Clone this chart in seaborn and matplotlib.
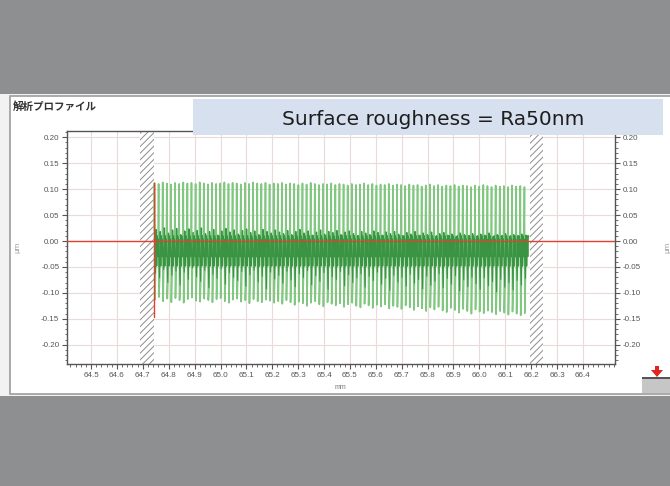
import numpy as np
import pandas as pd
import matplotlib
matplotlib.use("Agg")
import matplotlib.pyplot as plt
import seaborn as sns
from matplotlib.patches import Rectangle, Polygon
from matplotlib.ticker import MultipleLocator

# ---------------- data ----------------
X_START = 64.745          # first measured cycle, mm
X_END = 66.190            # last measured point, mm
PEAK = [0.112, 0.110, 0.113, 0.111, 0.109, 0.112, 0.110, 0.113, 0.111, 0.112,
        0.110, 0.113, 0.111, 0.109, 0.112, 0.110, 0.111, 0.113, 0.110, 0.112,
        0.111, 0.109, 0.112, 0.110, 0.113, 0.111, 0.110, 0.112, 0.109, 0.111,
        0.110, 0.112, 0.109, 0.111, 0.110, 0.108, 0.111, 0.109, 0.112, 0.110,
        0.108, 0.110, 0.109, 0.111, 0.108, 0.110, 0.109, 0.107, 0.110, 0.108,
        0.109, 0.111, 0.108, 0.110, 0.107, 0.109, 0.108, 0.110, 0.107, 0.109,
        0.108, 0.106, 0.109, 0.107, 0.108, 0.105, 0.107, 0.109, 0.106, 0.108,
        0.105, 0.107, 0.106, 0.108, 0.105, 0.107, 0.106, 0.104, 0.107, 0.105,
        0.108, 0.106, 0.104, 0.107, 0.105, 0.106, 0.104, 0.107, 0.105, 0.106, 0.104]
TROUGH = [-0.113, -0.108, -0.116, -0.111, -0.118, -0.110, -0.114, -0.119, -0.112, -0.109,
          -0.115, -0.117, -0.111, -0.114, -0.118, -0.112, -0.110, -0.116, -0.119, -0.113,
          -0.111, -0.117, -0.114, -0.120, -0.112, -0.116, -0.118, -0.113, -0.115, -0.119,
          -0.116, -0.121, -0.114, -0.118, -0.123, -0.117, -0.120, -0.125, -0.119, -0.116,
          -0.122, -0.126, -0.118, -0.121, -0.124, -0.120, -0.127, -0.122, -0.119, -0.125,
          -0.128, -0.121, -0.124, -0.129, -0.123, -0.126, -0.122, -0.130, -0.125, -0.127,
          -0.131, -0.124, -0.128, -0.133, -0.126, -0.130, -0.135, -0.128, -0.132, -0.127,
          -0.134, -0.137, -0.129, -0.133, -0.138, -0.131, -0.135, -0.140, -0.132, -0.136,
          -0.139, -0.134, -0.137, -0.141, -0.135, -0.138, -0.142, -0.136, -0.140, -0.143, -0.139]
BAND_LOW = [-0.062, -0.071, -0.055, -0.080, -0.066, -0.058, -0.085, -0.060, -0.074, -0.052,
            -0.069, -0.078, -0.057, -0.090, -0.064, -0.072, -0.054, -0.083, -0.061, -0.070,
            -0.076, -0.059, -0.087, -0.065, -0.056, -0.079, -0.068, -0.092, -0.060, -0.073,
            -0.066, -0.081, -0.058, -0.075, -0.088, -0.063, -0.070, -0.057, -0.084, -0.067,
            -0.078, -0.061, -0.093, -0.069, -0.074, -0.059, -0.086, -0.065, -0.080, -0.071,
            -0.063, -0.089, -0.068, -0.076, -0.060, -0.083, -0.072, -0.095, -0.066, -0.079,
            -0.070, -0.087, -0.064, -0.081, -0.074, -0.092, -0.068, -0.085, -0.077, -0.063,
            -0.090, -0.072, -0.083, -0.067, -0.096, -0.075, -0.088, -0.070, -0.082, -0.093,
            -0.071, -0.086, -0.078, -0.098, -0.074, -0.089, -0.080, -0.094, -0.076, -0.085, -0.072]
BAND_TOP = [0.022, 0.018, 0.025, 0.015, 0.021, 0.024, 0.012, 0.019, 0.023, 0.016,
            0.020, 0.025, 0.014, 0.018, 0.022, 0.011, 0.019, 0.024, 0.017, 0.021,
            0.013, 0.020, 0.023, 0.016, 0.019, 0.012, 0.022, 0.018, 0.015, 0.021,
            0.017, 0.014, 0.020, 0.012, 0.018, 0.022, 0.015, 0.019, 0.011, 0.017,
            0.021, 0.013, 0.018, 0.016, 0.020, 0.012, 0.017, 0.019, 0.014, 0.010,
            0.018, 0.015, 0.012, 0.019, 0.016, 0.011, 0.017, 0.014, 0.018, 0.013,
            0.010, 0.016, 0.013, 0.018, 0.011, 0.015, 0.012, 0.017, 0.009, 0.014,
            0.016, 0.011, 0.013, 0.008, 0.015, 0.012, 0.010, 0.014, 0.009, 0.013,
            0.011, 0.015, 0.008, 0.012, 0.010, 0.014, 0.009, 0.012, 0.010, 0.013, 0.011]
MID_SHAPE = [-0.048, 0.010, -0.030, 0.004]          # remaining in-cycle levels
CYCLE_FRAC = [0.0, 0.10, 0.24, 0.38, 0.52, 0.66, 0.80, 0.90]
MASK_BANDS = [(64.690, 64.745), (66.195, 66.245)]
CURSOR_X = 64.742
CURSOR_Y = (-0.147, 0.112)
X_TICKS = [64.5, 64.6, 64.7, 64.8, 64.9, 65.0, 65.1, 65.2, 65.3, 65.4,
           65.5, 65.6, 65.7, 65.8, 65.9, 66.0, 66.1, 66.2, 66.3, 66.4]
Y_TICKS = [-0.20, -0.15, -0.10, -0.05, 0.00, 0.05, 0.10, 0.15, 0.20]
X_LIM = (64.407, 66.524)
Y_LIM = (-0.237, 0.212)
TITLE = "解析プロファイル"
BANNER = "Surface roughness = Ra50nm"
X_UNIT = "mm"
Y_UNIT = "μm"

# ---------------- build profile table ----------------
n = len(PEAK)
period = (X_END - X_START) / n
rows = [(X_START, 0.020, False)]
for i in range(n):
    vals = [PEAK[i], TROUGH[i], BAND_LOW[i], BAND_TOP[i]] + MID_SHAPE
    for j, (f, v) in enumerate(zip(CYCLE_FRAC, vals)):
        rows.append((X_START + period * (i + f), v, j >= 2))
rows.append((X_END, 0.010, True))
df = pd.DataFrame(rows, columns=["x", "z", "dense"])
df_dense = df[df["dense"]]

# ---------------- figure ----------------
sns.set_style("white")
plt.rcParams["axes.unicode_minus"] = False
plt.rcParams["hatch.linewidth"] = 0.7
W, H = 670, 486
fig = plt.figure(figsize=(6.7, 4.86), dpi=100)
fig.patch.set_facecolor("#8e8f91")


def frect(x0, y0, x1, y1, **kw):
    r = Rectangle((x0 / W, 1 - y1 / H), (x1 - x0) / W, (y1 - y0) / H,
                  transform=fig.transFigure, **kw)
    fig.add_artist(r)
    return r


# panel background
frect(0, 94, 670, 396, facecolor="#f2f2f2", edgecolor="none", zorder=-10)
frect(10, 96, 671, 394, facecolor="white", edgecolor="#9c9c9c", lw=1.2, zorder=-9)

ax = fig.add_axes([67 / W, 1 - 364 / H, (615 - 67) / W, (364 - 131) / H])
ax.set_facecolor("white")

# masked (hatched) bands
for a, b in MASK_BANDS:
    ax.axvspan(a, b, facecolor="white", edgecolor="#8e8e8e", hatch="/////",
               lw=0, zorder=1.5)

# profile: full trace (light) and the dense mid part of each cycle (dark)
sns.lineplot(data=df, x="x", y="z", sort=False, estimator=None, ax=ax,
             color="#80c780", lw=1.2, zorder=3)
sns.lineplot(data=df_dense, x="x", y="z", sort=False, estimator=None, ax=ax,
             color="#2e8c3a", lw=0.8, alpha=0.85, zorder=3.2)

# reference lines
ax.axhline(0, color="#e2412f", lw=1.0, zorder=4)
ax.plot([CURSOR_X, CURSOR_X], list(CURSOR_Y), color="#e2412f", lw=1.0, zorder=4)

ax.set_xlim(*X_LIM)
ax.set_ylim(*Y_LIM)
ax.set_xticks(X_TICKS)
ax.set_xticklabels([f"{v:.1f}" for v in X_TICKS])
ax.set_yticks(Y_TICKS)
ax.set_yticklabels([f"{v:.2f}" for v in Y_TICKS])
ax.xaxis.set_minor_locator(MultipleLocator(0.02))
ax.yaxis.set_minor_locator(MultipleLocator(0.01))
ax.set_xlabel("")
ax.set_ylabel("")
ax.grid(True, which="major", color="#eadada", lw=0.8, zorder=0)
ax.set_axisbelow(True)
ax.tick_params(axis="both", which="major", direction="out", length=3.5, width=0.8,
               color="#555555", labelsize=5.8, labelcolor="#555555", pad=2)
ax.tick_params(axis="both", which="minor", direction="out", length=1.8, width=0.6,
               color="#555555")
ax.tick_params(axis="y", which="both", left=True, right=True, labelleft=True,
               labelright=True)
ax.tick_params(axis="x", which="both", bottom=True, top=False)
for lab in ax.get_xticklabels() + ax.get_yticklabels():
    lab.set_family(["Liberation Sans", "DejaVu Sans"])
for s in ax.spines.values():
    s.set_color("#555555")
    s.set_linewidth(1.0)

# unit labels
fig.text(340 / W, 1 - 387 / H, X_UNIT, fontsize=5, color="#777777",
         ha="center", va="center", family=["Liberation Sans", "DejaVu Sans"])
fig.text(17 / W, 1 - 247 / H, Y_UNIT, fontsize=5, color="#999999", rotation=90,
         ha="center", va="center")
fig.text(667 / W, 1 - 247 / H, Y_UNIT, fontsize=5, color="#999999", rotation=90,
         ha="center", va="center")

# title
fig.text(13 / W, 1 - 107 / H, TITLE, fontsize=7.6, fontweight="bold",
         color="#333333", ha="left", va="center",
         family=["Noto Sans CJK JP", "DejaVu Sans"])

# banner
frect(193, 99, 663, 135, facecolor="#d6e0ee", edgecolor="none", zorder=5)
fig.text(433 / W, 1 - 119 / H, BANNER, fontsize=14.5, color="#1e1e1e",
         ha="center", va="center", zorder=6, family=["DejaVu Sans"])

# bottom-right widget
frect(642, 378, 671, 393, facecolor="#c6c6c6", edgecolor="none", zorder=2)
frect(642, 377, 671, 379, facecolor="#555555", edgecolor="none", zorder=3)
frect(655, 366, 659, 371, facecolor="#e0241e", edgecolor="none", zorder=3)
fig.add_artist(Polygon([(651 / W, 1 - 370 / H), (663 / W, 1 - 370 / H),
                        (657 / W, 1 - 377 / H)], closed=True,
                       transform=fig.transFigure, facecolor="#e0241e",
                       edgecolor="none", zorder=3))

fig.savefig("out.png", dpi=100, facecolor=fig.get_facecolor())
